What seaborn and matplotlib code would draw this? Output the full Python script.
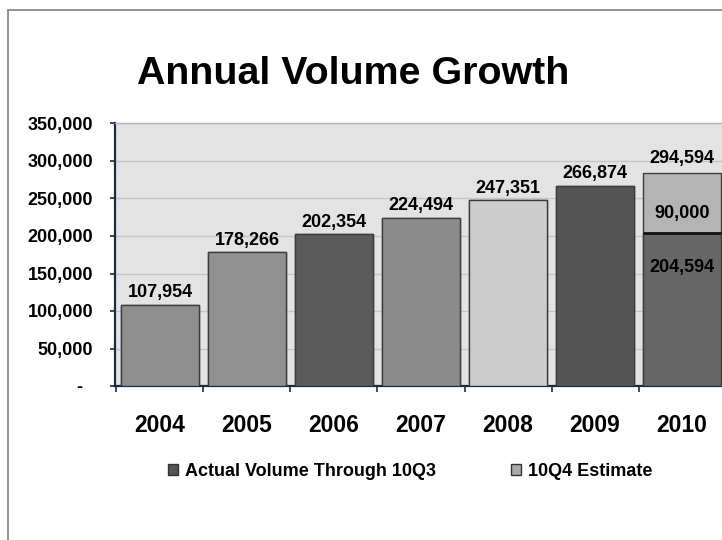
import matplotlib
matplotlib.use('Agg')
import matplotlib.pyplot as plt
import seaborn as sns
import pandas as pd
from matplotlib.patches import Patch
from matplotlib.lines import Line2D
from matplotlib.ticker import FuncFormatter, MultipleLocator, FixedLocator

# ---- data ----
years = ['2004', '2005', '2006', '2007', '2008', '2009', '2010']
actual = [107954, 178266, 202354, 224494, 247351, 266874, 204594]
estimate = [0, 0, 0, 0, 0, 0, 90000]            # labelled estimate value
estimate_bar = [0, 0, 0, 0, 0, 0, 79500]        # drawn height
actual_colors = ['#8f8f8f', '#919191', '#5b5b5b', '#8b8b8b', '#cdcdcd', '#555555', '#666666']
estimate_color = '#b4b4b4'
legend_labels = ['Actual Volume Through 10Q3', '10Q4 Estimate']
legend_colors = ['#555555', '#aaaaaa']
title = 'Annual Volume Growth'

sns.set_theme(style='white')
plt.rcParams['font.family'] = ['Liberation Sans', 'DejaVu Sans']
plt.rcParams['font.weight'] = 'bold'
plt.rcParams['text.color'] = 'black'
plt.rcParams['axes.labelcolor'] = 'black'
plt.rcParams['xtick.color'] = 'black'
plt.rcParams['ytick.color'] = 'black'

W, H = 722, 540
fig = plt.figure(figsize=(W / 100, H / 100), dpi=100)
fig.patch.set_facecolor('white')
ax = fig.add_axes([115 / W, (H - 386) / H, 612 / W, 262.5 / H])
ax.set_facecolor('#e3e3e3')

total_bar = [a + e for a, e in zip(actual, estimate_bar)]
total_colors = [estimate_color if e > 0 else c for c, e in zip(actual_colors, estimate_bar)]
df = pd.DataFrame({'year': years, 'actual': actual, 'total': total_bar})

edge = '#3c3c3c'
sns.barplot(data=df, x='year', y='total', hue='year',
            palette=dict(zip(years, total_colors)), width=0.9,
            edgecolor=edge, linewidth=1.0, legend=False, ax=ax, zorder=2)
sns.barplot(data=df, x='year', y='actual', hue='year',
            palette=dict(zip(years, actual_colors)), width=0.9,
            edgecolor=edge, linewidth=1.0, legend=False, ax=ax, zorder=3)

# thicker dark line on top of the 2010 actual segment
for i, (a, e) in enumerate(zip(actual, estimate_bar)):
    if e > 0:
        ax.plot([i - 0.45, i + 0.45], [a, a], color='#111111', lw=2, zorder=4,
                solid_capstyle='butt')

ax.set_xlim(-0.517, len(years) - 1 + 0.517)
ax.set_ylim(0, 350000)
ax.set_xlabel('')
ax.set_ylabel('')

ax.yaxis.set_major_locator(MultipleLocator(50000))
ax.yaxis.set_major_formatter(FuncFormatter(lambda v, p: f'{v:,.0f}' if v > 0 else '-  '))
ax.set_axisbelow(True)
ax.yaxis.grid(True, color='#c6c6c6', lw=1.0)
ax.xaxis.grid(False)

navy = '#1c2b45'
ax.tick_params(axis='y', which='major', left=True, direction='out', length=3.6, width=1.2,
               color=navy, labelcolor='black', pad=12.2, labelsize=13)
ax.xaxis.set_minor_locator(FixedLocator([i - 0.5 for i in range(len(years) + 1)]))
ax.tick_params(axis='x', which='minor', bottom=True, direction='out', length=4.5, width=1.2,
               color=navy)
ax.tick_params(axis='x', which='major', bottom=True, length=0, pad=20.5, labelsize=16.5,
               labelcolor='black')
for lab in ax.get_xticklabels() + ax.get_yticklabels():
    lab.set_fontweight('bold')
    lab.set_color('black')

for s in ['left', 'bottom']:
    ax.spines[s].set_color(navy)
    ax.spines[s].set_linewidth(1.6)
ax.spines['top'].set_color('#b5b5b5')
ax.spines['top'].set_linewidth(1.0)
ax.spines['right'].set_visible(False)

# data labels
fs = 13
for i, (a, e, eb) in enumerate(zip(actual, estimate, estimate_bar)):
    kw = dict(textcoords='offset points', ha='center', va='baseline', fontsize=fs,
              fontweight='bold', color='black', zorder=6)
    if e > 0:
        ax.annotate(f'{a + e:,}', (i, a + eb), xytext=(0, 7.2), **kw)
        ax.annotate(f'{e:,}', (i, a), xytext=(0, 10.8), **kw)
        ax.annotate(f'{a:,}', (i, a), xytext=(0, -28.6), **kw)
    else:
        ax.annotate(f'{a:,}', (i, a), xytext=(0, 5.5), **kw)

# title
fig.text(137 / W, 1 - 84 / H, title, ha='left', va='baseline',
         fontsize=28.4, fontweight='bold', color='black')

# legend
handles = [Patch(facecolor=c, edgecolor='#333333', linewidth=1.0) for c in legend_colors]
leg = fig.legend(handles, legend_labels, loc='center left',
                 bbox_to_anchor=(168 / W, 1 - 471 / H), bbox_transform=fig.transFigure,
                 ncol=2, frameon=False, prop={'weight': 'bold', 'size': 13},
                 handlelength=0.55, handleheight=0.55, handletextpad=0.38,
                 columnspacing=4.15, borderpad=0, borderaxespad=0)
for t in leg.get_texts():
    t.set_color('black')

# outer chart border (partly cut off)
bc = '#8a8a8a'
fig.add_artist(Line2D([7.5 / W, 7.5 / W], [0, 1 - 10 / H], transform=fig.transFigure,
                      color=bc, lw=1.3))
fig.add_artist(Line2D([7.5 / W, 1], [1 - 10 / H, 1 - 10 / H], transform=fig.transFigure,
                      color=bc, lw=1.3))

fig.savefig('out.png', dpi=100)
